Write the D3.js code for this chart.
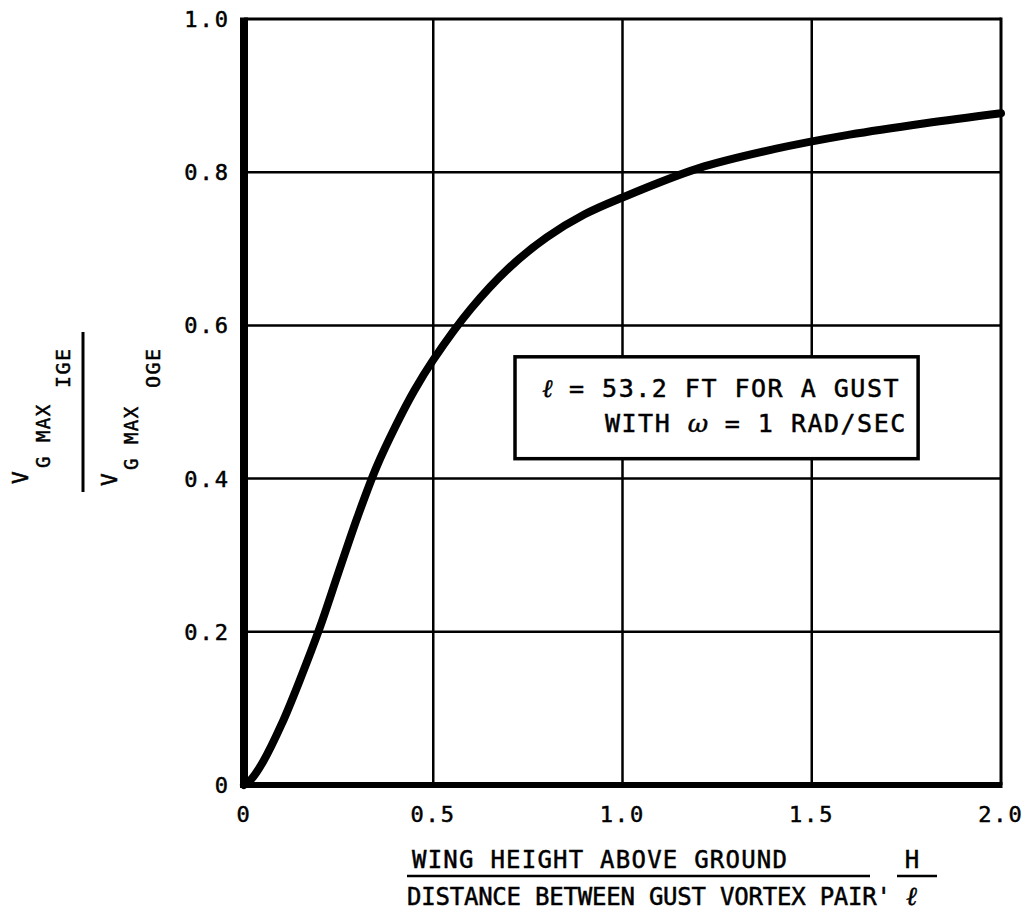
<!DOCTYPE html>
<html>
<head>
<meta charset="utf-8">
<script src="https://cdn.jsdelivr.net/npm/d3@7"></script>
<style>
  body { margin: 0; background: #fff; }
  text { font-family: "DejaVu Sans Mono", monospace; fill: #000; stroke: #000; stroke-width: 0.5px; }
</style>
</head>
<body>
<div id="chart"></div>
<script>
// curve: H / l  vs  Vg max IGE / Vg max OGE
var hOverL = [0, 0.02, 0.05, 0.1, 0.15, 0.2, 0.25, 0.3, 0.35, 0.4, 0.45, 0.5, 0.6, 0.7, 0.8, 0.9, 1.0, 1.2, 1.4, 1.6, 1.8, 2.0];
var ratio  = [0, 0.008, 0.03, 0.08, 0.14, 0.205, 0.278, 0.35, 0.415, 0.468, 0.515, 0.555, 0.622, 0.675, 0.715, 0.745, 0.767, 0.805, 0.83, 0.849, 0.864, 0.877];

var xTicks = [0, 0.5, 1.0, 1.5, 2.0];
var xTickLabels = ["0", "0.5", "1.0", "1.5", "2.0"];
var yTicks = [0, 0.2, 0.4, 0.6, 0.8, 1.0];
var yTickLabels = ["0", "0.2", "0.4", "0.6", "0.8", "1.0"];

var noteLines = ["\u2113 = 53.2 FT FOR A GUST", "WITH \u03c9 = 1 RAD/SEC"];

var width = 1029, height = 914;
var plotL = 244, plotR = 1001, plotT = 19, plotB = 785;

var x = d3.scaleLinear().domain([0, 2]).range([plotL, plotR]);
var y = d3.scaleLinear().domain([0, 1]).range([plotB, plotT]);

var svg = d3.select("#chart").append("svg")
  .attr("width", width)
  .attr("height", height);

// grid
var grid = svg.append("g");
grid.selectAll(".vg")
  .data(xTicks.slice(1, -1))
  .enter().append("line")
  .attr("x1", d => x(d)).attr("x2", d => x(d))
  .attr("y1", plotT).attr("y2", plotB)
  .attr("stroke", "#000").attr("stroke-width", 2.5);
grid.selectAll(".hg")
  .data(yTicks.slice(1, -1))
  .enter().append("line")
  .attr("x1", plotL).attr("x2", plotR)
  .attr("y1", d => y(d)).attr("y2", d => y(d))
  .attr("stroke", "#000").attr("stroke-width", 2.5);

// frame
svg.append("line").attr("x1", plotL).attr("x2", plotR).attr("y1", plotT).attr("y2", plotT)
  .attr("stroke", "#000").attr("stroke-width", 3);
svg.append("line").attr("x1", plotR).attr("x2", plotR).attr("y1", plotT - 1.5).attr("y2", plotB)
  .attr("stroke", "#000").attr("stroke-width", 3);
svg.append("line").attr("x1", plotL).attr("x2", plotR + 1.5).attr("y1", plotB).attr("y2", plotB)
  .attr("stroke", "#000").attr("stroke-width", 6);
svg.append("line").attr("x1", plotL).attr("x2", plotL).attr("y1", plotT - 1.5).attr("y2", plotB + 3)
  .attr("stroke", "#000").attr("stroke-width", 8);

// tick labels
svg.selectAll(".xl")
  .data(xTicks)
  .enter().append("text")
  .attr("x", d => x(d))
  .attr("y", 822)
  .attr("text-anchor", "middle")
  .attr("font-size", 22)
  .attr("letter-spacing", 2)
  .text((d, i) => xTickLabels[i]);

svg.selectAll(".yl")
  .data(yTicks)
  .enter().append("text")
  .attr("x", 230)
  .attr("y", d => y(d) + 8)
  .attr("text-anchor", "end")
  .attr("font-size", 22)
  .attr("letter-spacing", 2)
  .text((d, i) => yTickLabels[i]);

// curve
var line = d3.line()
  .x(d => x(d[0]))
  .y(d => y(d[1]))
  .curve(d3.curveCatmullRom.alpha(0.5));

svg.append("path")
  .datum(hOverL.map((h, i) => [h, ratio[i]]))
  .attr("d", line)
  .attr("fill", "none")
  .attr("stroke", "#000")
  .attr("stroke-width", 8)
  .attr("stroke-linecap", "round");

// note box
var bx0 = x(0.716), bx1 = x(1.781), by0 = y(0.559), by1 = y(0.426);
svg.append("rect")
  .attr("x", bx0).attr("y", by0)
  .attr("width", bx1 - bx0).attr("height", by1 - by0)
  .attr("fill", "#fff").attr("stroke", "#000").attr("stroke-width", 3.5);

var n1 = svg.append("text").attr("x", 542).attr("y", 397).attr("font-size", 25);
n1.append("tspan").attr("font-family", "DejaVu Serif").attr("font-style", "italic").text("\u2113");
n1.append("tspan").attr("letter-spacing", 1.5).text(noteLines[0].slice(1));

var n2 = svg.append("text").attr("x", 605).attr("y", 432).attr("font-size", 25);
n2.append("tspan").attr("letter-spacing", 1.5).text("WITH ");
n2.append("tspan").attr("font-family", "DejaVu Serif").attr("font-style", "italic").text("\u03c9");
n2.append("tspan").attr("letter-spacing", 1.5).text(noteLines[1].slice(6));

// x axis title (fraction)
svg.append("text").attr("x", 412).attr("y", 868).attr("font-size", 24)
  .attr("textLength", 375).attr("lengthAdjust", "spacing")
  .text("WING HEIGHT ABOVE GROUND");
svg.append("line").attr("x1", 407).attr("x2", 870).attr("y1", 876).attr("y2", 876)
  .attr("stroke", "#000").attr("stroke-width", 2.5);
svg.append("text").attr("x", 407).attr("y", 905).attr("font-size", 24)
  .attr("textLength", 484).attr("lengthAdjust", "spacing")
  .text("DISTANCE BETWEEN GUST VORTEX PAIR'");
svg.append("text").attr("x", 912).attr("y", 868).attr("font-size", 24)
  .attr("text-anchor", "middle").text("H");
svg.append("line").attr("x1", 897).attr("x2", 937).attr("y1", 876).attr("y2", 876)
  .attr("stroke", "#000").attr("stroke-width", 2.5);
svg.append("text").attr("x", 912).attr("y", 905).attr("font-size", 26)
  .attr("text-anchor", "middle")
  .attr("font-family", "DejaVu Serif").attr("font-style", "italic").attr("font-weight", "bold")
  .text("\u2113");

// y axis title (fraction, rotated)
var yt = svg.append("g").attr("transform", "rotate(-90)");
function yPart(txt, yStart, base, size) {
  yt.append("text")
    .attr("x", -yStart)
    .attr("y", base)
    .attr("font-size", size)
    .attr("letter-spacing", 1.5)
    .text(txt);
}
yPart("V", 484, 28, 21);
yPart("G MAX", 468, 50, 19);
yPart("IGE", 388, 70, 20);
svg.append("line").attr("x1", 83).attr("x2", 83).attr("y1", 332).attr("y2", 492)
  .attr("stroke", "#000").attr("stroke-width", 3);
yPart("V", 486, 117, 21);
yPart("G MAX", 470, 138, 19);
yPart("OGE", 388, 160, 20);
</script>
</body>
</html>
